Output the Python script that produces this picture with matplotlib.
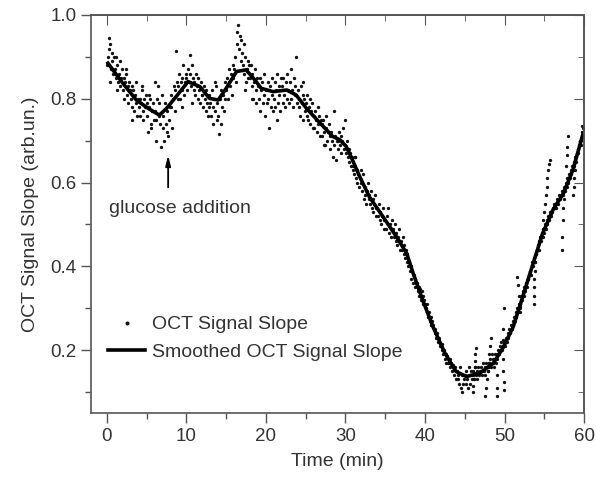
import numpy as np
import matplotlib
matplotlib.use("Agg")
import matplotlib.pyplot as plt
from matplotlib.ticker import MultipleLocator

plt.rcParams['font.family'] = ['Liberation Sans', 'DejaVu Sans']

# raw OCT signal slope, one row per minute, sampled every 0.1 min
raw_y = [
    0.88, 0.90, 0.92, 0.945, 0.93, 0.87, 0.91, 0.89, 0.86, 0.90,
    0.87, 0.85, 0.90, 0.88, 0.84, 0.86, 0.83, 0.89, 0.85, 0.87,
    0.82, 0.85, 0.80, 0.84, 0.86, 0.81, 0.83, 0.79, 0.84, 0.82,
    0.80, 0.83, 0.78, 0.82, 0.77, 0.81, 0.84, 0.79, 0.76, 0.80,
    0.78, 0.80, 0.76, 0.79, 0.82, 0.77, 0.75, 0.80, 0.78, 0.81,
    0.76, 0.79, 0.72, 0.78, 0.80, 0.74, 0.73, 0.77, 0.79, 0.75,
    0.77, 0.84, 0.75, 0.80, 0.83, 0.76, 0.79, 0.74, 0.685, 0.81,
    0.73, 0.76, 0.70, 0.79, 0.74, 0.72, 0.77, 0.71, 0.75, 0.78,
    0.78, 0.81, 0.73, 0.80, 0.83, 0.77, 0.82, 0.915, 0.84, 0.80,
    0.83, 0.86, 0.80, 0.84, 0.82, 0.85, 0.88, 0.81, 0.84, 0.86,
    0.85, 0.82, 0.87, 0.84, 0.905, 0.86, 0.83, 0.88, 0.85, 0.82,
    0.84, 0.81, 0.86, 0.83, 0.80, 0.85, 0.82, 0.79, 0.84, 0.81,
    0.81, 0.78, 0.83, 0.80, 0.77, 0.82, 0.79, 0.76, 0.81, 0.78,
    0.79, 0.76, 0.82, 0.78, 0.74, 0.80, 0.77, 0.83, 0.75, 0.79,
    0.76, 0.715, 0.80, 0.74, 0.82, 0.78, 0.81, 0.77, 0.84, 0.80,
    0.82, 0.85, 0.80, 0.84, 0.87, 0.83, 0.86, 0.81, 0.88, 0.85,
    0.87, 0.90, 0.84, 0.96, 0.93, 0.975, 0.92, 0.95, 0.89, 0.94,
    0.91, 0.88, 0.93, 0.86, 0.90, 0.84, 0.87, 0.89, 0.85, 0.88,
    0.85, 0.88, 0.83, 0.86, 0.80, 0.84, 0.87, 0.82, 0.79, 0.85,
    0.83, 0.80, 0.85, 0.77, 0.82, 0.84, 0.79, 0.86, 0.81, 0.76,
    0.82, 0.79, 0.84, 0.80, 0.73, 0.83, 0.78, 0.85, 0.81, 0.77,
    0.80, 0.84, 0.78, 0.82, 0.86, 0.79, 0.83, 0.81, 0.77, 0.85,
    0.83, 0.79, 0.85, 0.81, 0.78, 0.84, 0.80, 0.86, 0.82, 0.79,
    0.84, 0.80, 0.87, 0.82, 0.78, 0.85, 0.81, 0.83, 0.90, 0.79,
    0.82, 0.78, 0.80, 0.76, 0.83, 0.79, 0.81, 0.75, 0.80, 0.77,
    0.79, 0.76, 0.81, 0.75, 0.78, 0.80, 0.74, 0.77, 0.79, 0.73,
    0.76, 0.73, 0.77, 0.75, 0.72, 0.78, 0.74, 0.76, 0.71, 0.75,
    0.74, 0.71, 0.75, 0.72, 0.69, 0.73, 0.76, 0.70, 0.72, 0.74,
    0.71, 0.68, 0.72, 0.70, 0.66, 0.77, 0.69, 0.71, 0.655, 0.70,
    0.70, 0.68, 0.72, 0.69, 0.71, 0.67, 0.70, 0.73, 0.68, 0.75,
    0.69, 0.67, 0.70, 0.66, 0.68, 0.65, 0.67, 0.64, 0.66, 0.63,
    0.64, 0.62, 0.66, 0.61, 0.63, 0.60, 0.62, 0.59, 0.61, 0.63,
    0.60, 0.58, 0.62, 0.56, 0.59, 0.57, 0.55, 0.58, 0.60, 0.56,
    0.57, 0.55, 0.58, 0.54, 0.56, 0.53, 0.55, 0.57, 0.52, 0.54,
    0.54, 0.52, 0.55, 0.51, 0.53, 0.50, 0.52, 0.54, 0.49, 0.51,
    0.51, 0.49, 0.52, 0.50, 0.54, 0.48, 0.50, 0.47, 0.49, 0.51,
    0.49, 0.47, 0.50, 0.46, 0.48, 0.45, 0.47, 0.49, 0.44, 0.46,
    0.46, 0.44, 0.47, 0.43, 0.45, 0.42, 0.44, 0.41, 0.43, 0.40,
    0.41, 0.39, 0.40, 0.37, 0.39, 0.36, 0.38, 0.35, 0.37, 0.36,
    0.36, 0.34, 0.35, 0.33, 0.345, 0.32, 0.34, 0.31, 0.33, 0.32,
    0.31, 0.30, 0.31, 0.29, 0.28, 0.29, 0.27, 0.28, 0.26, 0.27,
    0.26, 0.25, 0.24, 0.25, 0.23, 0.24, 0.22, 0.23, 0.22, 0.21,
    0.21, 0.20, 0.215, 0.19, 0.20, 0.18, 0.19, 0.17, 0.185, 0.17,
    0.17, 0.18, 0.16, 0.17, 0.15, 0.165, 0.14, 0.155, 0.16, 0.13,
    0.15, 0.13, 0.14, 0.12, 0.16, 0.11, 0.10, 0.14, 0.12, 0.13,
    0.14, 0.12, 0.15, 0.13, 0.11, 0.16, 0.14, 0.12, 0.15, 0.13,
    0.14, 0.15, 0.13, 0.16, 0.14, 0.15, 0.13, 0.16, 0.14, 0.15,
    0.15, 0.16, 0.14, 0.17, 0.15, 0.16, 0.14, 0.17, 0.16, 0.15,
    0.16, 0.17, 0.18, 0.16, 0.19, 0.17, 0.18, 0.16, 0.19, 0.18,
    0.18, 0.19, 0.20, 0.19, 0.21, 0.20, 0.22, 0.20, 0.21, 0.22,
    0.21, 0.22, 0.23, 0.22, 0.24, 0.23, 0.25, 0.24, 0.26, 0.25,
    0.26, 0.27, 0.28, 0.27, 0.29, 0.28, 0.30, 0.29, 0.31, 0.30,
    0.31, 0.33, 0.32, 0.34, 0.33, 0.35, 0.34, 0.36, 0.35, 0.37,
    0.37, 0.38, 0.39, 0.38, 0.40, 0.41, 0.40, 0.42, 0.41, 0.43,
    0.43, 0.44, 0.45, 0.44, 0.46, 0.47, 0.46, 0.48, 0.47, 0.49,
    0.48, 0.50, 0.49, 0.51, 0.50, 0.52, 0.51, 0.53, 0.52, 0.53,
    0.53, 0.54, 0.55, 0.54, 0.55, 0.54, 0.56, 0.55, 0.56, 0.57,
    0.56, 0.57, 0.58, 0.57, 0.58, 0.59, 0.58, 0.60, 0.59, 0.61,
    0.60, 0.62, 0.61, 0.63, 0.62, 0.64, 0.63, 0.65, 0.64, 0.66,
    0.66, 0.67, 0.68, 0.67, 0.69, 0.70, 0.69, 0.71, 0.72, 0.73,
]
raw_t = np.round(np.arange(len(raw_y)) * 0.1, 1)

# extra readings, mostly the streaks after the minimum
extra_t = [46.4, 46.35, 46.3, 46.25, 46.2, 46.15, 46.1, 46.05,
           48.3, 48.2, 48.1, 48.0, 47.9, 47.8, 47.7, 47.6,
           48.9, 49.0, 49.05, 49.1,
           49.9, 49.85, 49.8, 49.8, 49.85, 49.9, 49.95,
           51.6, 51.7, 51.8, 51.9, 52.0,
           53.65, 53.7, 53.7, 53.75, 53.8, 53.8,
           54.8, 54.9, 55.0, 55.1, 55.2, 55.3, 55.4, 55.5, 55.6, 55.7,
           57.2, 57.25, 57.3, 57.4, 57.5, 57.6, 57.7, 57.8, 57.9, 58.0,
           58.6, 58.7, 58.8, 58.9, 59.0, 59.7,
           0.45, 1.25, 2.35, 3.15, 4.45, 5.35, 6.15, 9.45, 10.65, 13.55,
           17.35, 18.25, 21.45, 24.65, 27.35, 31.25]
extra_y = [0.205, 0.19, 0.175, 0.16, 0.145, 0.13, 0.115, 0.10,
           0.23, 0.21, 0.19, 0.17, 0.15, 0.13, 0.11, 0.09,
           0.17, 0.14, 0.11, 0.09,
           0.30, 0.25, 0.225, 0.18, 0.15, 0.125, 0.105,
           0.375, 0.355, 0.33, 0.305, 0.29,
           0.31, 0.33, 0.35, 0.37, 0.39, 0.41,
           0.49, 0.51, 0.53, 0.55, 0.57, 0.59, 0.61, 0.63, 0.645, 0.655,
           0.44, 0.47, 0.51, 0.54, 0.56, 0.59, 0.64, 0.665, 0.685, 0.71,
           0.57, 0.59, 0.61, 0.63, 0.65, 0.735,
           0.84, 0.82, 0.87, 0.75, 0.83, 0.81, 0.70, 0.78, 0.79, 0.84,
           0.82, 0.80, 0.75, 0.84, 0.69, 0.66]

# smoothed curve
smooth_t = [0.13, 2.0, 3.7, 5.2, 6.6, 7.5, 8.7, 10.2, 11.7, 12.9, 14.0, 15.0,
            16.3, 17.5, 18.6, 19.4, 20.9, 22.6, 23.8, 25.1, 26.8, 28.4, 29.3,
            30.1, 30.5, 31.8, 33.0, 34.7, 36.4, 37.7, 38.5, 39.7, 41.0, 42.5,
            43.9, 45.2, 46.9, 48.6, 49.8, 51.1, 52.3, 53.6, 54.8, 56.1, 57.4,
            58.6, 59.9]
smooth_y = [0.885, 0.837, 0.797, 0.777, 0.761, 0.777, 0.805, 0.841, 0.829,
            0.801, 0.797, 0.825, 0.865, 0.869, 0.845, 0.825, 0.817, 0.821,
            0.809, 0.777, 0.742, 0.710, 0.702, 0.686, 0.670, 0.614, 0.566,
            0.519, 0.471, 0.431, 0.384, 0.320, 0.256, 0.193, 0.149, 0.137,
            0.145, 0.169, 0.205, 0.256, 0.328, 0.407, 0.479, 0.535, 0.574,
            0.630, 0.718]

txt = '#333333'
edge = '#555555'

fig = plt.figure(figsize=(5.96, 4.82), dpi=100)
ax = fig.add_axes([0.1527, 0.1432, 0.8272, 0.8257])

all_t = np.concatenate([raw_t, extra_t])
all_y = np.concatenate([raw_y, extra_y])
ax.plot(all_t, all_y, linestyle='none', marker='o', markersize=2.4,
        markeredgewidth=0, color='#111111', label='OCT Signal Slope')
ax.plot(smooth_t, smooth_y, color='black', linewidth=2.6,
        label='Smoothed OCT Signal Slope')

ax.set_xlim(-2, 60)
ax.set_ylim(0.05, 1.0)
ax.xaxis.set_major_locator(MultipleLocator(10))
ax.xaxis.set_minor_locator(MultipleLocator(5))
ax.yaxis.set_major_locator(MultipleLocator(0.2))
ax.yaxis.set_minor_locator(MultipleLocator(0.1))
ax.set_yticks([0.2, 0.4, 0.6, 0.8, 1.0])
ax.tick_params(which='both', direction='out', colors=edge, labelcolor=txt,
               labelsize=13.5, width=1.0)
ax.tick_params(which='major', length=7)
ax.tick_params(which='minor', length=4)
for s in ax.spines.values():
    s.set_color(edge)
    s.set_linewidth(1.2)

top = ax.secondary_xaxis('top')
top.xaxis.set_major_locator(MultipleLocator(10))
top.xaxis.set_minor_locator(MultipleLocator(5))
top.tick_params(which='both', direction='in', labeltop=False, colors=edge)
top.tick_params(which='major', length=7)
top.tick_params(which='minor', length=4)
right = ax.secondary_yaxis('right')
right.yaxis.set_major_locator(MultipleLocator(0.2))
right.yaxis.set_minor_locator(MultipleLocator(0.1))
right.tick_params(which='both', direction='in', labelright=False, colors=edge)
right.tick_params(which='major', length=7)
right.tick_params(which='minor', length=4)
for sec in (top, right):
    for s in sec.spines.values():
        s.set_color(edge)
        s.set_linewidth(1.2)

ax.set_xlabel('Time (min)', fontsize=14, color=txt, labelpad=6)
ax.set_ylabel('OCT Signal Slope (arb.un.)', fontsize=14, color=txt, labelpad=8)

ax.annotate('', xy=(7.7, 0.672), xytext=(7.7, 0.582),
            arrowprops=dict(arrowstyle='-|>,head_length=0.6,head_width=0.15',
                            color='black', lw=1.3))
ax.text(0.3, 0.539, 'glucose addition', fontsize=14, color=txt,
        ha='left', va='center')

leg = ax.legend(loc='lower left', bbox_to_anchor=(0.006, 0.097), frameon=False,
                fontsize=14, handlelength=1.95, handletextpad=0.36,
                labelspacing=0.5, markerscale=1.2, borderaxespad=0.3)
for t in leg.get_texts():
    t.set_color(txt)

fig.savefig('out.png', dpi=100)
